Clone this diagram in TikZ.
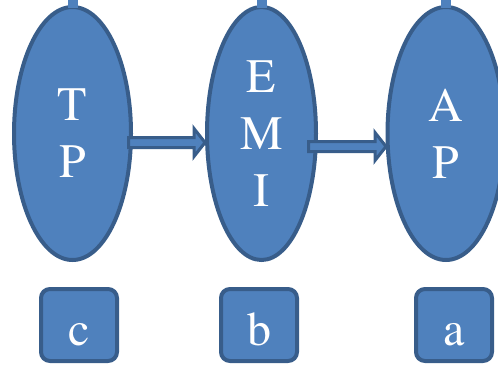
\documentclass[tikz,border=0pt]{standalone}
\usepackage{fontspec}
\newfontfamily\labelfont{TeX Gyre Termes}
\usetikzlibrary{shapes.geometric,calc}
\definecolor{accentfill}{HTML}{4F81BD}
\definecolor{accentline}{HTML}{385D8A}

% block arrow between two named points (shaft start, tip)
\newcommand\blockarrow[2]{%
  \path[link] let \p1=(#1), \p2=(#2) in
    (\x1,\y1+5pt) -- (\x2-11pt,\y1+5pt) -- (\x2-11pt,\y1+14pt) -- (\x2,\y1)
    -- (\x2-11pt,\y1-14pt) -- (\x2-11pt,\y1-5pt) -- (\x1,\y1-5pt) -- cycle;}

\begin{document}
\begin{tikzpicture}[x=1pt,y=-1pt,
  stage/.style={ellipse,draw=accentline,fill=accentfill,line width=4pt,
    inner sep=0pt,minimum height=253pt,text=white,align=center,
    font=\labelfont\fontsize{48}{57}\selectfont},
  tag/.style={rectangle,rounded corners=9pt,draw=accentline,fill=accentfill,
    line width=4pt,minimum width=76pt,minimum height=72pt,inner sep=0pt,
    text=white,text height=40pt,text depth=0pt,
    font=\labelfont\fontsize{48}{57}\selectfont},
  link/.style={draw=accentline,fill=accentfill,line width=3pt,line join=miter},
  stub/.style={draw=accentfill,line width=10pt}]
\useasboundingbox (0,0) rectangle (498,365);

% stages
\node[stage,minimum width=117pt] (tp)  at (72.5,133.5)  {T\\P};
\node[stage,minimum width=109pt] (emi) at (261.5,133.5) {E\\M\\I};
\node[stage,minimum width=117pt] (ap)  at (446,133.5) {A\\P};

% short stubs leaving the top of each stage
\draw[stub] ($(tp.north)+(0,3)$)  -- ++(0,-12);
\draw[stub] ($(emi.north)+(0,3)$) -- ++(0,-12);
\draw[stub] ($(ap.north)+(0,3)$)  -- ++(0,-12);

% arrows between the stages
\coordinate (tpOut)  at (128.5,142.5);
\coordinate (emiIn)  at (205,142.5);
\coordinate (emiOut) at (308.5,146.5);
\coordinate (apIn)   at (386,146.5);
\blockarrow{tpOut}{emiIn}
\blockarrow{emiOut}{apIn}

% labels underneath
\node[tag] (lc) at (79,325)  {c};
\node[tag] (lb) at (259,325) {b};
\node[tag] (la) at (454,325) {a};
\end{tikzpicture}
\end{document}
